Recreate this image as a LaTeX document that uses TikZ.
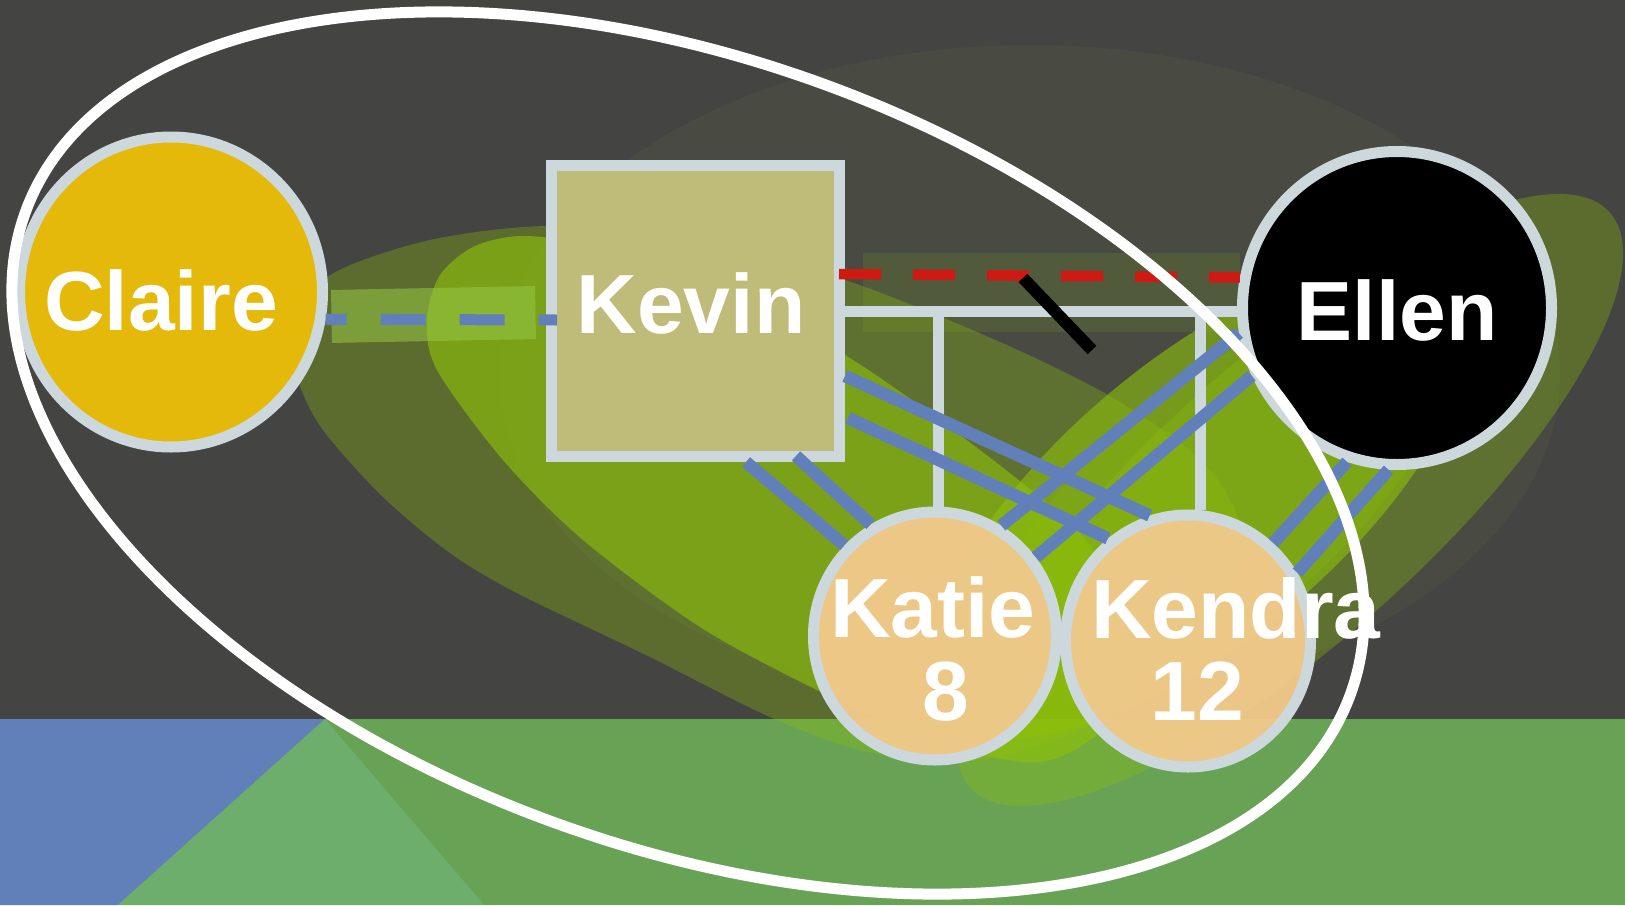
\documentclass[tikz,border=0pt]{standalone}
\usepackage{fontspec}
\usetikzlibrary{shapes.geometric}
\newfontfamily\personfont{Liberation Sans Bold}
\definecolor{slate}{HTML}{444442}
\definecolor{rim}{HTML}{CDD8DC}
\definecolor{gold}{HTML}{E4B90A}
\definecolor{khaki}{HTML}{BFBB78}
\definecolor{peach}{HTML}{F0C98A}
\definecolor{cornflower}{HTML}{6180B9}
\definecolor{brick}{HTML}{CD1B13}
\definecolor{leaf}{HTML}{8DC00A}
\definecolor{mist}{HTML}{8CA05A}
\definecolor{lime}{HTML}{96C846}
\definecolor{meadow}{HTML}{68A355}
\definecolor{sage}{HTML}{6DAE6C}

\begin{document}
\begin{tikzpicture}%
  [x=1pt,y=-1pt,line cap=butt,
   % Styles
   person/.style={ellipse,draw=rim,line width=11pt,inner sep=0pt},
   man/.style={rectangle,draw=rim,line width=11pt,inner sep=0pt},
   kid/.style={person,fill=peach,fill opacity=.97},
   name text/.style={text=white,inner sep=0pt,anchor=base,
     font=\personfont\fontsize{84}{82}\selectfont},
   blob/.style={fill=leaf,fill opacity=#1},
   family line/.style={draw=rim,line width=11pt},
   tie line/.style={draw=cornflower,line width=12.5pt},
   conflict line/.style={draw=brick,line width=10.5pt,dash pattern=on 42pt off 32pt}]

  \useasboundingbox (0,0) rectangle (1625,905);
  \clip (0,0) rectangle (1625,905);

  % Backdrop and floor band
  \fill[slate] (0,0) rectangle (1625,905);
  \fill[meadow] (0,719) rectangle (1625,905);
  \fill[cornflower] (0,719) -- (325,719) -- (118,905) -- (0,905) -- cycle;
  \fill[sage] (325,719) -- (118,905) -- (484,905) -- cycle;

  % Emotional zones (translucent)
  \fill[mist,fill opacity=.08] (1030,375) ellipse [x radius=530,y radius=330];
  \fill[blob=.33] plot[smooth cycle] coordinates {(292,325) (332,274) (430,240)
    (546,226) (680,236) (845,280) (1000,342) (1120,402) (1210,470) (1245,550)
    (1205,640) (1100,720) (980,760) (868,752) (770,717) (650,657) (517,593)
    (450,553) (383,497) (323,430) (298,380)};
  \fill[blob=.33,shift={(1290,500)},rotate=42] (0,0) ellipse [x radius=430,y radius=140];
  \fill[blob=.62] plot[smooth cycle] coordinates {(440,275) (475,246) (525,236)
    (600,248) (720,295) (845,355) (993,460) (1090,545) (1135,640) (1110,722)
    (1040,762) (935,742) (817,690) (700,627) (583,540) (503,460) (437,370)
    (427,320)};
  \fill[blob=.6,shift={(1200,500)},rotate=40] (0,0) ellipse [x radius=330,y radius=140];
  \fill[blob=.2,shift={(1212,508)},rotate=40] (0,0) ellipse [x radius=300,y radius=118];

  % Highlighted ties
  \fill[lime,fill opacity=.55,shift={(433.5,314.5)},rotate=1.1] (-102,-26.5) rectangle (102,26.5);
  \fill[blob=.13] (863,253) rectangle (1240,332);

  % People
  \node[person,fill=gold,minimum width=303pt,minimum height=310pt] (claire) at (171,292) {};
  \node[man,fill=khaki,minimum width=288pt,minimum height=291pt] (kevin) at (695.5,311) {};
  \node[person,fill=black,minimum width=309pt,minimum height=313pt] (ellen) at (1397,308) {};
  \node[kid,minimum width=243pt,minimum height=248pt] (katie) at (935,636) {};
  \node[kid,minimum width=245pt,minimum height=252pt] (kendra) at (1188,641) {};

  % Couple line and drops to the children
  \coordinate (katie drop) at ([xshift=3pt]katie.north);
  \coordinate (kendra drop) at ([xshift=12pt]kendra.north);
  \draw[family line] (kevin.east) -- (kevin.east -| ellen.west);
  \draw[family line] (katie drop |- kevin.east) -- (katie drop);
  \draw[family line] (kendra drop |- kevin.east) -- (kendra drop);

  % Conflict and cut-off
  \draw[conflict line] ([xshift=-6pt,yshift=37pt]kevin.east) -- (ellen.169);
  \coordinate (cut top) at (1023,278);
  \coordinate (cut end) at (1092,350);
  \draw[line width=12pt] (cut top) -- (cut end);

  % Relationship ties
  \draw[tie line,line width=11pt,dash pattern=on 45pt off 34pt,dash phase=24pt]
    (claire.-10) -- ([xshift=11pt,yshift=-9pt]kevin.west);
  \coordinate (kevin s1) at ([xshift=50.5pt]kevin.south);
  \coordinate (kevin s2) at ([xshift=100.5pt,yshift=6pt]kevin.south);
  \coordinate (kevin e1) at ([yshift=-65pt]kevin.east);
  \coordinate (kevin e2) at ([xshift=3pt,yshift=-107pt]kevin.east);
  \foreach \from/\to in {kevin s1/katie.135, kevin s2/katie.120,
      kevin e1/kendra.107, kevin e2/kendra.128,
      ellen.189/katie.59, ellen.205/katie.38,
      ellen.252/kendra.49, ellen.267/kendra.32}
    \draw[tie line] (\from) -- (\to);

  % Names
  \node[name text] (claire name) at (161,330) {Claire};
  \node[name text] (kevin name) at (691,333) {Kevin};
  \node[name text] (ellen name) at (1397,340) {Ellen};
  \node[name text] (katie name) at (933,637) {Katie};
  \node[name text] (katie age) at (946,720) {8};
  \node[name text] (kendra name) at (1236,638.5) {Kendra};
  \node[name text] (kendra age) at (1197,720) {12};

  % Household boundary
  \draw[white,line width=11pt,shift={(688,453)},rotate=-20] (0,0) ellipse [x radius=705,y radius=393];
\end{tikzpicture}
\end{document}
